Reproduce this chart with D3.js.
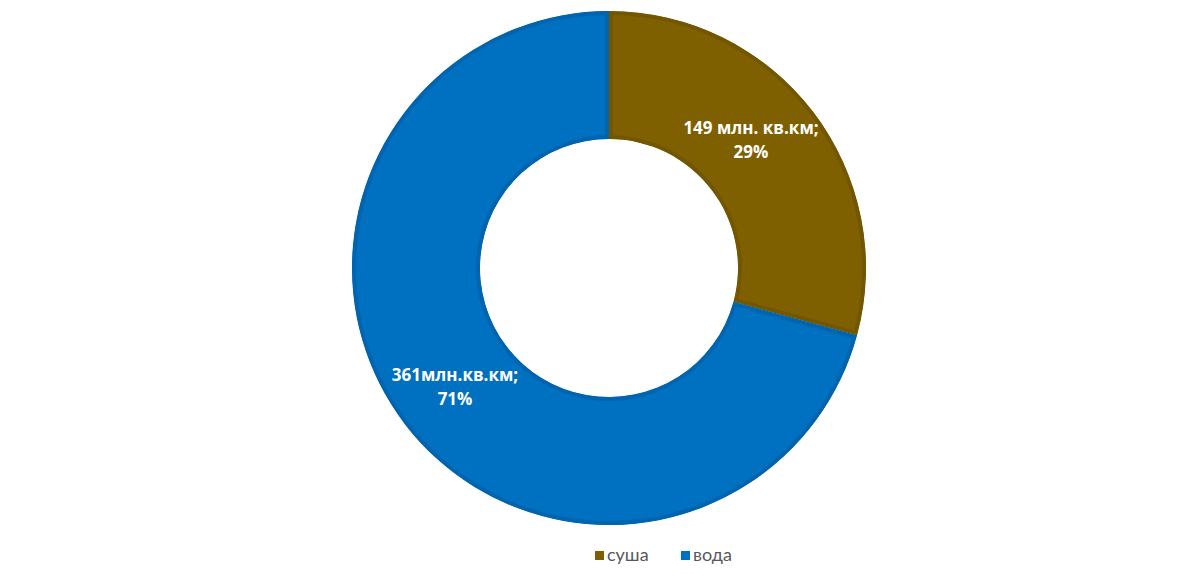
<!DOCTYPE html>
<html><head><meta charset="utf-8">
<script src="https://cdn.jsdelivr.net/npm/d3@7"></script>
<style>body{margin:0;background:#fff}svg{display:block}</style>
</head><body>
<svg id="c" width="1200" height="579"></svg>
<script>
const categories = ["суша", "вода"];
const values = [149, 361];
const labelLines = [["149 млн. кв.км;", "29%"], ["361млн.кв.км;", "71%"]];
const colors = ["#7F6000", "#0070C0"];
const strokes = ["#735600", "#0064AE"];

const svg = d3.select("#c");
const cx = 609, cy = 268, R = 257, r = 129;
const pie = d3.pie().sort(null).value(d => d)(values);
const arc = d3.arc().innerRadius(r).outerRadius(R);
const g = svg.append("g").attr("transform", `translate(${cx},${cy})`);
const defs = svg.append("defs");
pie.forEach((p, i) => {
  defs.append("clipPath").attr("id", "cl" + i).append("path").attr("d", arc(p));
  g.append("path").attr("d", arc(p)).attr("fill", colors[i])
    .attr("stroke", strokes[i]).attr("stroke-width", 8)
    .attr("clip-path", `url(#cl${i})`);
});
const labelPos = [[751, 134], [455, 381]];
pie.forEach((p, i) => {
  const t = g.append("text").attr("text-anchor", "middle")
    .attr("font-family", "'Open Sans', sans-serif").attr("font-weight", "bold")
    .attr("font-size", 17).attr("fill", "#fff");
  labelLines[i].forEach((ln, j) => {
    t.append("tspan").attr("x", labelPos[i][0] - cx).attr("y", labelPos[i][1] - cy + j * 24).text(ln);
  });
});
const legX = [595, 681];
categories.forEach((c, i) => {
  svg.append("rect").attr("x", legX[i]).attr("y", 551).attr("width", 9).attr("height", 9).attr("fill", colors[i]);
  svg.append("text").attr("x", legX[i] + 12).attr("y", 561)
    .attr("font-family", "Lato, 'Open Sans', sans-serif").attr("font-size", 18)
    .attr("fill", "#595959").text(c);
});
</script>
</body></html>
